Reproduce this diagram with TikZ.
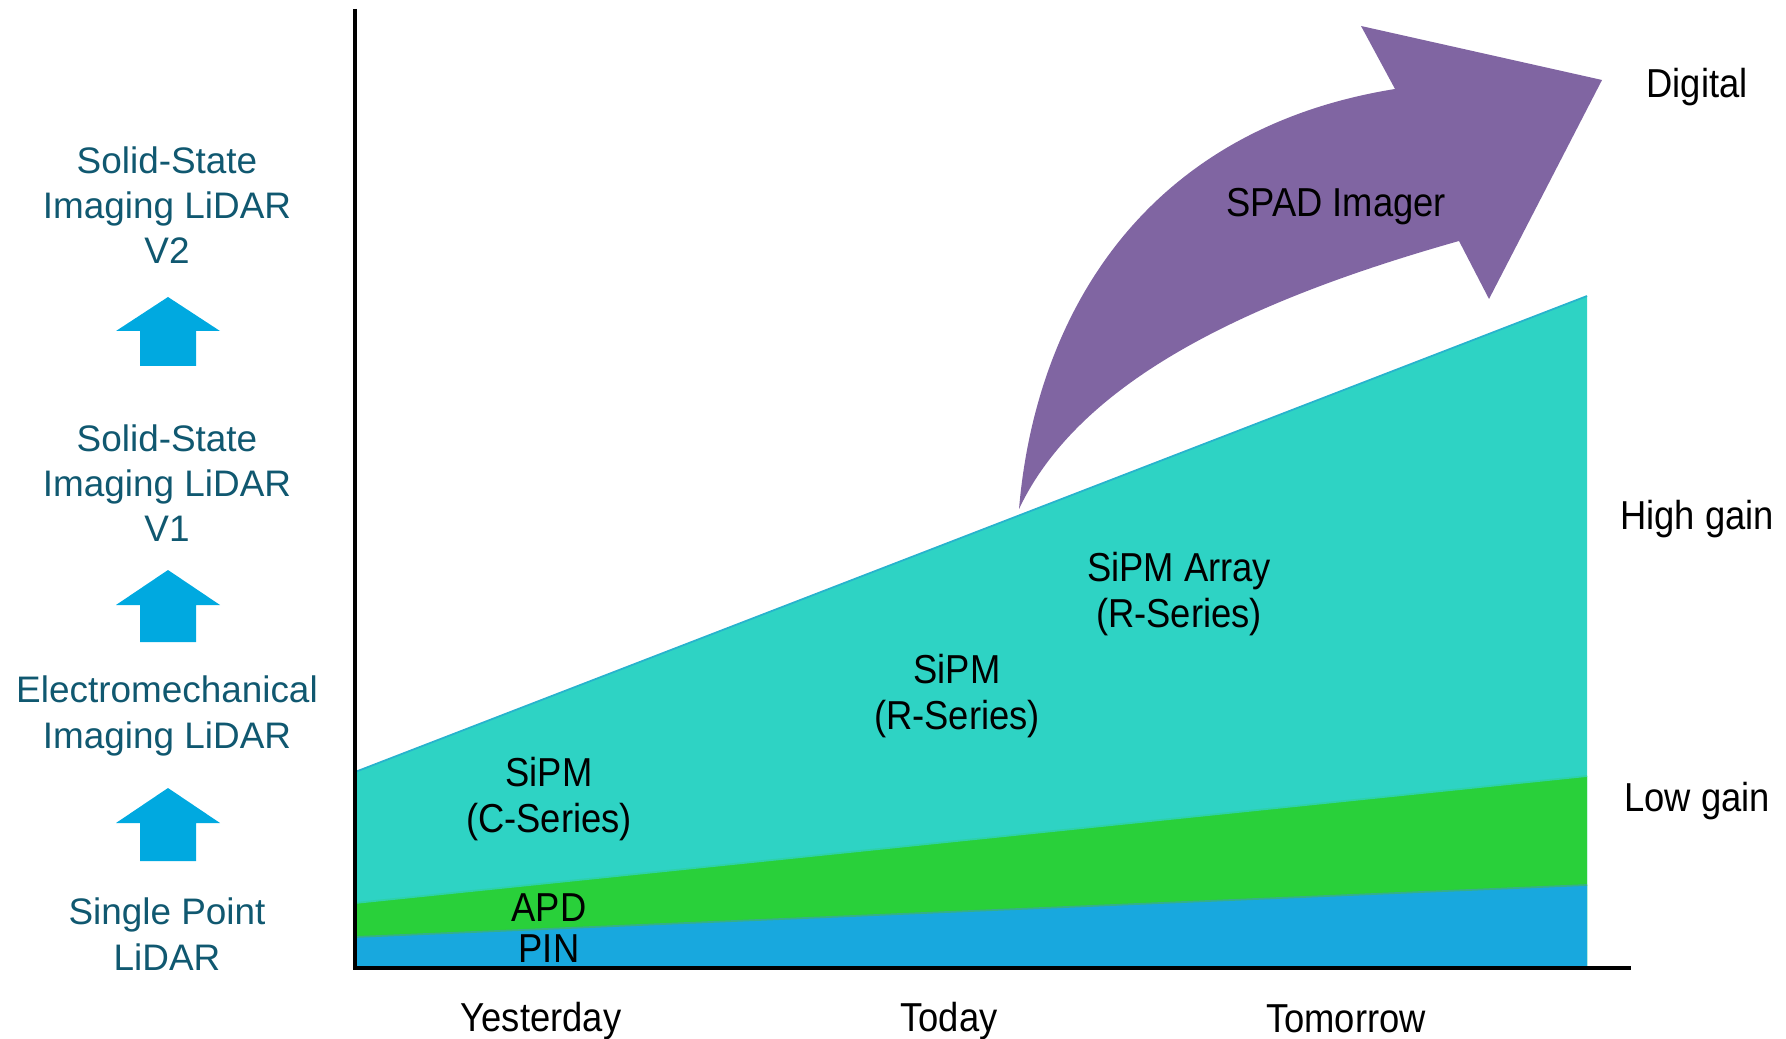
\documentclass[tikz,border=0pt]{standalone}
\usepackage{fontspec}
\setmainfont{Liberation Sans}
\newfontfamily\narrowsf[FakeStretch=0.9]{Liberation Sans}

\definecolor{sipmteal}{RGB}{46,211,196}
\definecolor{apdgreen}{RGB}{41,208,58}
\definecolor{pinblue}{RGB}{24,168,222}
\definecolor{spadpurple}{RGB}{128,101,162}
\definecolor{steparrow}{RGB}{0,169,224}
\definecolor{stagetext}{RGB}{16,88,112}

\tikzset{
  stage/.style={align=center, inner sep=0pt, text=stagetext, font=\fontsize{10.5}{12.9}\selectfont},
  chartlabel/.style={align=center, inner sep=0pt, font=\narrowsf\fontsize{11.5}{12.9}\selectfont},
  axis/.style={line width=1pt, black},
  bandedge/.style={line width=0.5pt},
}

\begin{document}
\begin{tikzpicture}[x=0.1mm, y=-0.1mm]
\useasboundingbox (0,0) rectangle (1786,1039);
% detector bands
\fill [sipmteal] (355,772) -- (1587,296) -- (1587,968) -- (355,968) -- cycle;
\fill [apdgreen] (355,903) -- (1587,776) -- (1587,968) -- (355,968) -- cycle;
\fill [pinblue] (355,937) -- (1587,885) -- (1587,968) -- (355,968) -- cycle;
\draw [bandedge, sipmteal!85!blue] (355,772) -- (1587,296);
\draw [bandedge, sipmteal!80!apdgreen] (355,903) -- (1587,776);
\draw [bandedge, apdgreen!50!pinblue!80!gray] (355,937) -- (1587,885);
% axes
\coordinate (origin) at (355,968);
\coordinate (ytop) at (355,9);
\coordinate (xend) at (1631,968);
\draw [axis] (ytop) -- (origin) -- (xend);
% curved arrow
\fill [spadpurple] (1019,509) .. controls (1035,320) and (1140,130) .. (1395,89)
  -- (1361,26) -- (1602,80) -- (1489,299) -- (1459,241)
  .. controls (1250,300) and (1080,380) .. (1019,509) -- cycle;
\node [chartlabel] (spad) at (1336,207) {SPAD Imager};
% band labels
\node [chartlabel] (sipmarray) at (1179,594) {SiPM Array\\(R-Series)};
\node [chartlabel] (sipmr) at (957,696) {SiPM\\(R-Series)};
\node [chartlabel] (sipmc) at (549,799) {SiPM\\(C-Series)};
\node [chartlabel] (apd) at (549,908) {APD};
\node [chartlabel] (pin) at (549,949) {PIN};
% right side
\node [chartlabel] (digital) at (1697,87) {Digital};
\node [chartlabel] (highgain) at (1697,519) {High gain};
\node [chartlabel] (lowgain) at (1697,801) {Low gain};
% time axis
\node [chartlabel] (yesterday) at (541,1021) {Yesterday};
\node [chartlabel] (today) at (949,1021) {Today};
\node [chartlabel] (tomorrow) at (1346,1019) {Tomorrow};
% lidar stages
\node [stage] (v2) at (167,205) {Solid-State\\Imaging LiDAR\\V2};
\node [stage] (v1) at (167,483) {Solid-State\\Imaging LiDAR\\V1};
\node [stage] (electro) at (167,716) {Electromechanical\\Imaging LiDAR};
\node [stage] (single) at (167,934) {Single Point\\LiDAR};
\fill [steparrow] (168,297) -- (220,331) -- (196,331) -- (196,366) -- (140,366) -- (140,331) -- (116,331) -- cycle;
\fill [steparrow] (168,570) -- (220,605) -- (196,605) -- (196,642) -- (140,642) -- (140,605) -- (116,605) -- cycle;
\fill [steparrow] (168,788) -- (220,823) -- (196,823) -- (196,861) -- (140,861) -- (140,823) -- (116,823) -- cycle;
\end{tikzpicture}
\end{document}
